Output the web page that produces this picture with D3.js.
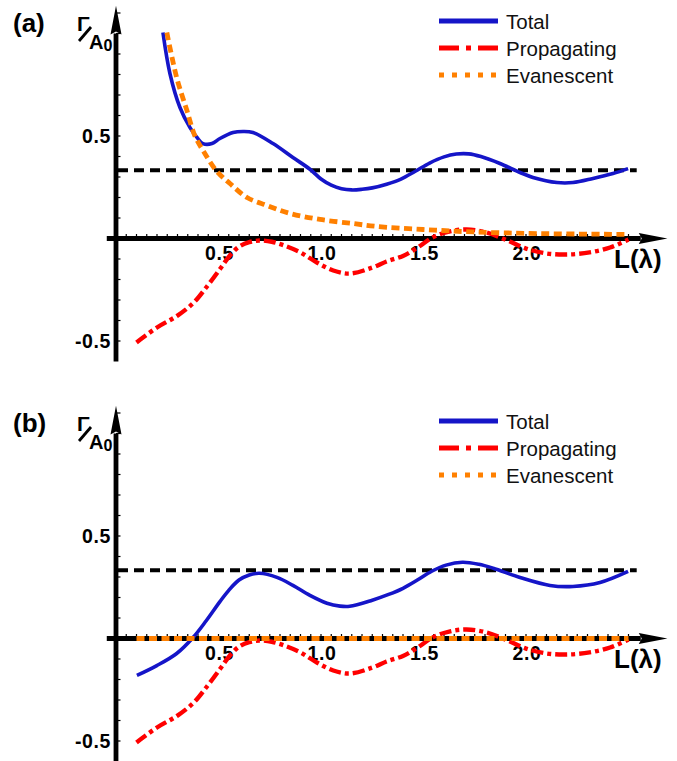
<!DOCTYPE html>
<html>
<head>
<meta charset="utf-8">
<script src="https://cdn.jsdelivr.net/npm/d3@7"></script>
<style>
    body { margin: 0; background: #fff; }
    svg text { font-family: "Liberation Sans", Arial, sans-serif; }
</style>
</head>
<body>
<svg id="chart" width="677" height="761"></svg>
<script>
// values, L in wavelengths, Γ/A0 on the y axis
const xTickValues = [0.5, 1.0, 1.5, 2.0];
const xTickLabels = ["0.5", "1.0", "1.5", "2.0"];
const yTickValues = [0.5, -0.5];
const yTickLabels = ["0.5", "-0.5"];
const legendNames = ["Total", "Propagating", "Evanescent"];
const refLevel = 0.333;

// panel (a)
const totalA_L = [0.229, 0.263, 0.312, 0.361, 0.395, 0.424, 0.468, 0.507, 0.571, 0.620, 0.668, 0.766, 0.863, 0.946, 1.000, 1.050, 1.100, 1.150, 1.200, 1.250, 1.320, 1.390, 1.460, 1.530, 1.600, 1.660, 1.720, 1.780, 1.873, 1.971, 2.034, 2.151, 2.229, 2.327, 2.424, 2.498];
const totalA_V = [1.005, 0.805, 0.639, 0.541, 0.493, 0.463, 0.463, 0.488, 0.517, 0.522, 0.517, 0.463, 0.395, 0.338, 0.290, 0.260, 0.243, 0.237, 0.240, 0.247, 0.265, 0.290, 0.328, 0.368, 0.398, 0.412, 0.413, 0.400, 0.366, 0.322, 0.298, 0.273, 0.273, 0.293, 0.317, 0.341];
const propA_L = [0.10, 0.20, 0.30, 0.38, 0.44, 0.51, 0.55, 0.60, 0.65, 0.70, 0.76, 0.82, 0.90, 0.98, 1.06, 1.14, 1.25, 1.32, 1.40, 1.47, 1.55, 1.63, 1.71, 1.81, 1.91, 2.00, 2.10, 2.20, 2.31, 2.41, 2.50];
const propA_V = [-0.507, -0.434, -0.376, -0.312, -0.239, -0.145, -0.090, -0.040, -0.018, -0.010, -0.016, -0.034, -0.068, -0.117, -0.156, -0.171, -0.142, -0.112, -0.085, -0.045, 0.008, 0.035, 0.044, 0.029, -0.010, -0.049, -0.073, -0.078, -0.068, -0.044, -0.005];
const evanA_L = [0.248, 0.296, 0.346, 0.385, 0.424, 0.490, 0.556, 0.639, 0.737, 0.850, 0.995, 1.156, 1.270, 1.498, 1.741, 2.068, 2.493];
const evanA_V = [1.005, 0.785, 0.624, 0.500, 0.430, 0.330, 0.268, 0.200, 0.161, 0.122, 0.093, 0.073, 0.059, 0.044, 0.032, 0.024, 0.020];

// panel (b)
const totalB_L = [0.102, 0.199, 0.296, 0.376, 0.441, 0.507, 0.550, 0.600, 0.650, 0.700, 0.785, 0.863, 0.946, 1.029, 1.093, 1.140, 1.250, 1.330, 1.400, 1.470, 1.540, 1.610, 1.690, 1.770, 1.840, 1.971, 2.117, 2.229, 2.361, 2.498];
const totalB_V = [-0.180, -0.132, -0.073, 0.005, 0.088, 0.180, 0.235, 0.285, 0.310, 0.318, 0.298, 0.259, 0.210, 0.172, 0.158, 0.157, 0.187, 0.215, 0.245, 0.285, 0.328, 0.358, 0.372, 0.362, 0.343, 0.298, 0.259, 0.254, 0.273, 0.327];
const propB_L = propA_L;
const propB_V = propA_V;
const evanB_L = [0.10, 2.50];
const evanB_V = [0, 0];

const svg = d3.select('#chart');
const x = d3.scaleLinear().domain([0, 2.5]).range([116, 628.5]);

const styles = [
    { color: '#1515c8', width: 3.6, dash: null, legendDash: null, legendWidth: 5 },
    { color: '#ff0000', width: 4.4, dash: '12,4,4,4', legendDash: '20,7,5,7', legendWidth: 5 },
    { color: '#ff8000', width: 4.8, dash: '8,4.5', legendDash: '5,8', legendWidth: 5 }
];

drawPanel(0, '(a)', [[totalA_L, totalA_V], [propA_L, propA_V], [evanA_L, evanA_V]]);
drawPanel(400, '(b)', [[totalB_L, totalB_V], [propB_L, propB_V], [evanB_L, evanB_V]]);

function drawPanel(offset, label, series) {
    const y = d3.scaleLinear().domain([-0.5, 0.5]).range([341 + offset, 136 + offset]);
    const g = svg.append('g');

    // minor ticks
    g.selectAll('line.xminor')
        .data(d3.range(0.05, 2.55, 0.05))
        .enter().append('line')
        .attr('x1', d => x(d)).attr('x2', d => x(d))
        .attr('y1', y(0)).attr('y2', y(0) - 4.5)
        .attr('stroke', '#000').attr('stroke-width', 1.2);

    g.selectAll('line.yminor')
        .data(d3.range(-0.5, 1.11, 0.1).filter(v => Math.abs(v) > 0.01))
        .enter().append('line')
        .attr('x1', x(0)).attr('x2', x(0) + 4.5)
        .attr('y1', d => y(d)).attr('y2', d => y(d))
        .attr('stroke', '#000').attr('stroke-width', 1.2);

    // axes
    g.append('line')
        .attr('x1', x(-0.045)).attr('x2', x(2.56))
        .attr('y1', y(0)).attr('y2', y(0))
        .attr('stroke', '#000').attr('stroke-width', 4.8);
    g.append('line')
        .attr('x1', x(0)).attr('x2', x(0))
        .attr('y1', y(-0.6)).attr('y2', y(1.0))
        .attr('stroke', '#000').attr('stroke-width', 4.8);

    const tipX = x(2.69), baseX = x(2.55), ax0 = y(0);
    g.append('path')
        .attr('d', `M${tipX},${ax0} L${baseX},${ax0 - 5.5} L${baseX + 3},${ax0} L${baseX},${ax0 + 5.5} Z`)
        .attr('fill', '#000');
    const tipY = y(1.135), baseY = y(0.995), ay0 = x(0);
    g.append('path')
        .attr('d', `M${ay0},${tipY} L${ay0 - 5.5},${baseY} L${ay0},${baseY - 3} L${ay0 + 5.5},${baseY} Z`)
        .attr('fill', '#000');

    // tick labels
    g.selectAll('text.xt')
        .data(xTickValues)
        .enter().append('text')
        .attr('x', d => x(d) + 1)
        .attr('y', y(0) + 21)
        .attr('text-anchor', 'middle')
        .attr('font-size', 19.5).attr('font-weight', 'bold')
        .attr('letter-spacing', 0.6)
        .text((d, i) => xTickLabels[i]);

    g.selectAll('text.yt')
        .data(yTickValues)
        .enter().append('text')
        .attr('x', x(0) - 5)
        .attr('y', d => y(d) + 7)
        .attr('text-anchor', 'end')
        .attr('font-size', 19.5).attr('font-weight', 'bold')
        .attr('letter-spacing', 0.6)
        .text((d, i) => yTickLabels[i]);

    // axis titles
    g.append('text')
        .attr('x', 614).attr('y', 268 + offset)
        .attr('font-size', 26).attr('font-weight', 'bold')
        .text('L(λ)');

    g.append('text')
        .attr('x', 77).attr('y', 31 + offset)
        .attr('font-size', 21).attr('font-weight', 'bold')
        .text('Γ');
    g.append('line')
        .attr('x1', 79).attr('y1', 41 + offset)
        .attr('x2', 91).attr('y2', 27 + offset)
        .attr('stroke', '#000').attr('stroke-width', 2.8);
    g.append('text')
        .attr('x', 89).attr('y', 49 + offset)
        .attr('font-size', 20).attr('font-weight', 'bold')
        .text('A');
    g.append('text')
        .attr('x', 103.5).attr('y', 51 + offset)
        .attr('font-size', 16).attr('font-weight', 'bold')
        .text('0');

    g.append('text')
        .attr('x', 13).attr('y', 32 + offset)
        .attr('font-size', 26).attr('font-weight', 'bold')
        .text(label);

    // reference level
    g.append('line')
        .attr('x1', x(0) + 2).attr('x2', x(2.54))
        .attr('y1', y(refLevel)).attr('y2', y(refLevel))
        .attr('stroke', '#000').attr('stroke-width', 4)
        .attr('stroke-dasharray', '10,6');

    // curves
    const line = d3.line()
        .x(d => x(d[0]))
        .y(d => y(d[1]))
        .curve(d3.curveCatmullRom.alpha(0.5));

    series.forEach(function (s, i) {
        const st = styles[i];
        g.append('path')
            .datum(d3.zip(s[0], s[1]))
            .attr('d', line)
            .attr('fill', 'none')
            .attr('stroke', st.color)
            .attr('stroke-width', st.width)
            .attr('stroke-dasharray', st.dash);
    });

    // legend
    const legend = g.selectAll('g.legend')
        .data(legendNames)
        .enter().append('g')
        .attr('transform', (d, i) => `translate(439,${21 + offset + i * 27})`);

    legend.append('line')
        .attr('x1', 0).attr('x2', 59)
        .attr('y1', 0).attr('y2', 0)
        .attr('stroke', (d, i) => styles[i].color)
        .attr('stroke-width', (d, i) => styles[i].legendWidth)
        .attr('stroke-dasharray', (d, i) => styles[i].legendDash);

    legend.append('text')
        .attr('x', 67).attr('y', 7.5)
        .attr('font-size', 20.5)
        .attr('fill', '#111')
        .text(d => d);
}
</script>
</body>
</html>
